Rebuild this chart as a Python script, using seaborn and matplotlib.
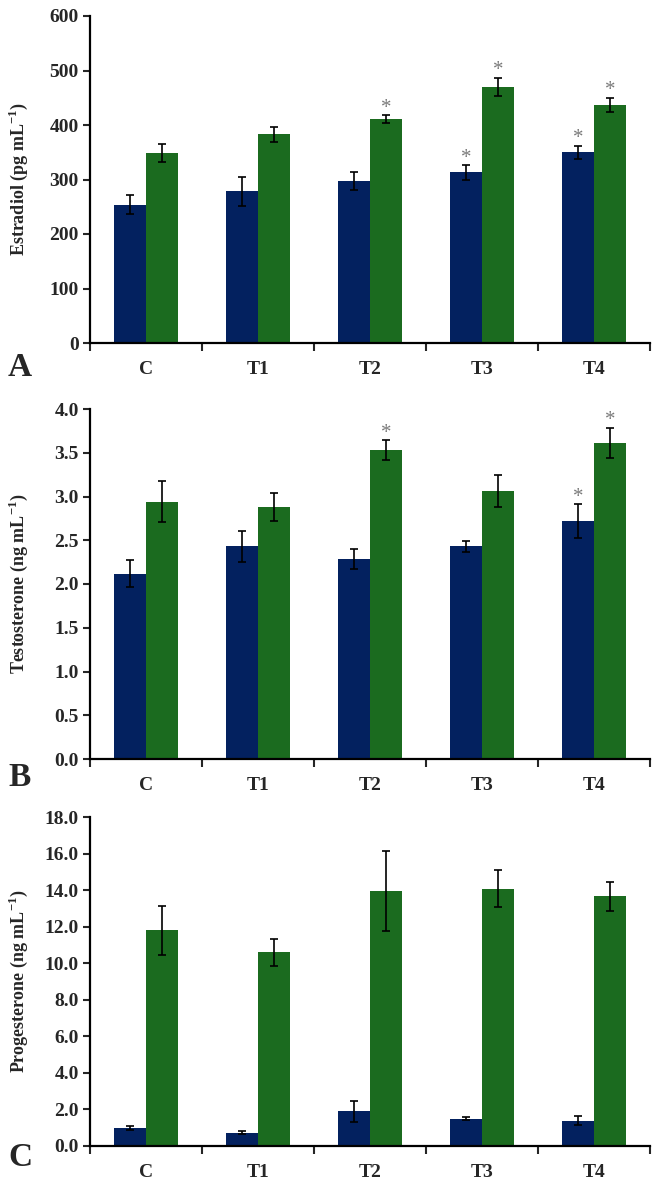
import numpy as np
import pandas as pd
import matplotlib
matplotlib.use("Agg")
import matplotlib.pyplot as plt
import seaborn as sns

# Data
groups = ['C', 'T1', 'T2', 'T3', 'T4']
series = ['Series 1', 'Series 2']

estradiol_s1 = [254, 278, 297, 313, 350]
estradiol_s1_err = [18, 27, 17, 13, 12]
estradiol_s2 = [349, 383, 411, 470, 437]
estradiol_s2_err = [16, 14, 7, 17, 13]
estradiol_star_s1 = [False, False, False, True, True]
estradiol_star_s2 = [False, False, True, True, True]

testo_s1 = [2.12, 2.43, 2.29, 2.43, 2.72]
testo_s1_err = [0.15, 0.18, 0.115, 0.06, 0.19]
testo_s2 = [2.94, 2.88, 3.53, 3.06, 3.61]
testo_s2_err = [0.235, 0.155, 0.115, 0.185, 0.175]
testo_star_s1 = [False, False, False, False, True]
testo_star_s2 = [False, False, True, False, True]

prog_s1 = [1.0, 0.72, 1.9, 1.5, 1.38]
prog_s1_err = [0.1, 0.08, 0.58, 0.1, 0.25]
prog_s2 = [11.8, 10.6, 13.95, 14.08, 13.66]
prog_s2_err = [1.35, 0.75, 2.2, 1.03, 0.8]
prog_star_s1 = [False] * 5
prog_star_s2 = [False] * 5

palette = ['#03215f', '#1b6b1f']

sns.set_style('ticks')
plt.rcParams['font.family'] = ['Liberation Serif', 'DejaVu Serif']
plt.rcParams['font.weight'] = 'bold'
plt.rcParams['axes.labelweight'] = 'bold'
plt.rcParams['mathtext.fontset'] = 'custom'
plt.rcParams['mathtext.rm'] = 'Liberation Serif:bold'
plt.rcParams['mathtext.bf'] = 'Liberation Serif:bold'

W, H = 659, 1193
fig = plt.figure(figsize=(W / 100, H / 100), dpi=100)


def panel(rect, s1, e1, s2, e2, st1, st2, ylim, yticks, fmt, ylabel, letter, letter_y):
    ax = fig.add_axes(rect)
    df = pd.DataFrame({
        'Group': groups * 2,
        'Series': [series[0]] * 5 + [series[1]] * 5,
        'Value': s1 + s2,
    })
    sns.barplot(data=df, x='Group', y='Value', hue='Series', palette=palette,
                errorbar=None, width=0.57, saturation=1, legend=False, ax=ax,
                linewidth=0)
    for cont, errs, stars in zip(ax.containers, [e1, e2], [st1, st2]):
        xs = [p.get_x() + p.get_width() / 2 for p in cont]
        hs = [p.get_height() for p in cont]
        ax.errorbar(xs, hs, yerr=errs, fmt='none', ecolor='black',
                    elinewidth=1.2, capsize=3.2, capthick=1.2)
        for x, h, e, s in zip(xs, hs, errs, stars):
            if s:
                ax.annotate('*', (x, h + e), xytext=(0, 5), textcoords='offset points',
                            ha='center', va='center', fontsize=15, color='#7a7a7a',
                            fontweight='normal')
    ax.set_xlim(-0.5, 4.5)
    ax.set_ylim(*ylim)
    ax.set_yticks(yticks)
    ax.set_yticklabels([fmt.format(v) for v in yticks])
    ax.set_xticks(range(5))
    ax.set_xticklabels(groups)
    ax.set_xticks(np.arange(-0.5, 5, 1), minor=True)
    ax.tick_params(axis='x', which='major', length=0, pad=13, labelsize=14)
    ax.tick_params(axis='x', which='minor', length=6, width=1.5, direction='out')
    ax.tick_params(axis='y', length=5, width=1.5, direction='out', labelsize=14, pad=3)
    for sp in ['top', 'right']:
        ax.spines[sp].set_visible(False)
    for sp in ['left', 'bottom']:
        ax.spines[sp].set_linewidth(1.6)
        ax.spines[sp].set_color('black')
    ax.set_xlabel('')
    ax.set_ylabel(ylabel, fontsize=13)
    ax.yaxis.set_label_coords(-0.108, 0.5)
    fig.text(8 / W, 1 - letter_y / H, letter, fontsize=24, fontweight='bold',
             ha='left', va='center')
    return ax


panel([90 / W, 850 / H, 560 / W, 327 / H],
      estradiol_s1, estradiol_s1_err, estradiol_s2, estradiol_s2_err,
      estradiol_star_s1, estradiol_star_s2,
      (0, 600), list(range(0, 601, 100)), '{:.0f}',
      'Estradiol (pg mL$^{-1}$)', 'A', 368)

panel([90 / W, 434 / H, 560 / W, 350 / H],
      testo_s1, testo_s1_err, testo_s2, testo_s2_err,
      testo_star_s1, testo_star_s2,
      (0, 4.0), list(np.arange(0, 4.01, 0.5)), '{:.1f}',
      'Testosterone (ng mL$^{-1}$)', 'B', 777)

panel([90 / W, 47 / H, 560 / W, 329 / H],
      prog_s1, prog_s1_err, prog_s2, prog_s2_err,
      prog_star_s1, prog_star_s2,
      (0, 18.0), list(np.arange(0, 18.01, 2.0)), '{:.1f}',
      'Progesterone (ng mL$^{-1}$)', 'C', 1158)

fig.savefig('out.png', dpi=100)
